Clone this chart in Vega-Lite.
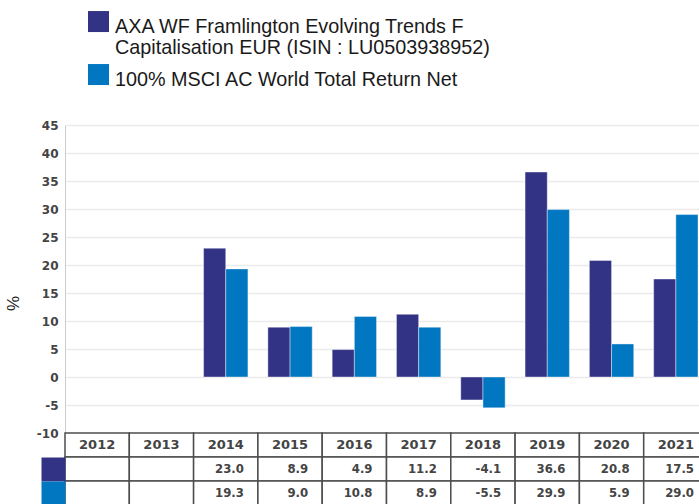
{
  "$schema": "https://vega.github.io/schema/vega-lite/v6.json",
  "padding": {"left": 4, "top": 6, "right": 0, "bottom": 0},
  "config": {"font": "Liberation Sans", "view": {"stroke": null}},
  "spacing": 0,
  "bounds": "flush",
  "vconcat": [
    {
      "width": 643,
      "height": 308,
      "data": {
        "values": [
          {"year": "2014", "series": "AXA WF Framlington Evolving Trends F Capitalisation EUR (ISIN : LU0503938952)", "value": 23.0},
          {"year": "2014", "series": "100% MSCI AC World Total Return Net", "value": 19.3},
          {"year": "2015", "series": "AXA WF Framlington Evolving Trends F Capitalisation EUR (ISIN : LU0503938952)", "value": 8.9},
          {"year": "2015", "series": "100% MSCI AC World Total Return Net", "value": 9.0},
          {"year": "2016", "series": "AXA WF Framlington Evolving Trends F Capitalisation EUR (ISIN : LU0503938952)", "value": 4.9},
          {"year": "2016", "series": "100% MSCI AC World Total Return Net", "value": 10.8},
          {"year": "2017", "series": "AXA WF Framlington Evolving Trends F Capitalisation EUR (ISIN : LU0503938952)", "value": 11.2},
          {"year": "2017", "series": "100% MSCI AC World Total Return Net", "value": 8.9},
          {"year": "2018", "series": "AXA WF Framlington Evolving Trends F Capitalisation EUR (ISIN : LU0503938952)", "value": -4.1},
          {"year": "2018", "series": "100% MSCI AC World Total Return Net", "value": -5.5},
          {"year": "2019", "series": "AXA WF Framlington Evolving Trends F Capitalisation EUR (ISIN : LU0503938952)", "value": 36.6},
          {"year": "2019", "series": "100% MSCI AC World Total Return Net", "value": 29.9},
          {"year": "2020", "series": "AXA WF Framlington Evolving Trends F Capitalisation EUR (ISIN : LU0503938952)", "value": 20.8},
          {"year": "2020", "series": "100% MSCI AC World Total Return Net", "value": 5.9},
          {"year": "2021", "series": "AXA WF Framlington Evolving Trends F Capitalisation EUR (ISIN : LU0503938952)", "value": 17.5},
          {"year": "2021", "series": "100% MSCI AC World Total Return Net", "value": 29.0}
        ]
      },
      "mark": {"type": "bar", "stroke": "#ffffff", "strokeOpacity": 0.4, "strokeWidth": 1},
      "encoding": {
        "x": {
          "field": "year", "type": "nominal",
          "scale": {"domain": ["2012","2013","2014","2015","2016","2017","2018","2019","2020","2021"], "paddingInner": 0.31, "paddingOuter": 0.155},
          "axis": null
        },
        "xOffset": {
          "field": "series", "type": "nominal",
          "scale": {"domain": ["AXA WF Framlington Evolving Trends F Capitalisation EUR (ISIN : LU0503938952)", "100% MSCI AC World Total Return Net"], "paddingInner": 0, "paddingOuter": 0}
        },
        "y": {
          "field": "value", "type": "quantitative",
          "scale": {"domain": [-10, 45], "nice": false, "zero": false},
          "axis": {
            "values": [-10,-5,0,5,10,15,20,25,30,35,40,45],
            "labelExpr": "'' + datum.value",
            "title": "%",
            "titleY": 178,
            "titleFontSize": 17,
            "titleFontWeight": "normal",
            "titleColor": "#222222",
            "titlePadding": 14,
            "ticks": false,
            "labelPadding": 7,
            "labelFont": "DejaVu Sans",
            "labelFontSize": 12,
            "labelFontWeight": "bold",
            "labelColor": "#444444",
            "labelOverlap": false,
            "domainColor": "#cccccc",
            "domainWidth": 1,
            "gridColor": "#ebebeb",
            "gridWidth": 1.5
          }
        },
        "color": {
          "field": "series", "type": "nominal",
          "scale": {"domain": ["AXA WF Framlington Evolving Trends F Capitalisation EUR (ISIN : LU0503938952)", "100% MSCI AC World Total Return Net"], "range": ["#333385", "#0077c0"]},
          "legend": {
            "title": null,
            "orient": "none",
            "legendX": 23,
            "legendY": -119,
            "padding": 0,
            "symbolType": "M-1,-0.52H1V1.48H-1Z",
            "symbolSize": 441,
            "symbolStrokeWidth": 0,
            "symbolOpacity": 1,
            "labelFontSize": 19.8,
            "labelBaseline": "top",
            "labelOffset": 6,
            "labelColor": "#1a1a1a",
            "labelLimit": 1000,
            "rowPadding": 0,
            "labelExpr": "indexof(datum.label, 'AXA') == 0 ? ['AXA WF Framlington Evolving Trends F', 'Capitalisation EUR (ISIN : LU0503938952)'] : datum.label"
          }
        }
      }
    },
    {
      "width": 643,
      "height": 72,
      "data": {
        "values": [
          {"year": "2012", "row": "year", "label": "2012"},
          {"year": "2013", "row": "year", "label": "2013"},
          {"year": "2014", "row": "year", "label": "2014"},
          {"year": "2015", "row": "year", "label": "2015"},
          {"year": "2016", "row": "year", "label": "2016"},
          {"year": "2017", "row": "year", "label": "2017"},
          {"year": "2018", "row": "year", "label": "2018"},
          {"year": "2019", "row": "year", "label": "2019"},
          {"year": "2020", "row": "year", "label": "2020"},
          {"year": "2021", "row": "year", "label": "2021"},
          {"year": "2012", "row": "fund", "label": ""},
          {"year": "2013", "row": "fund", "label": ""},
          {"year": "2014", "row": "fund", "label": "23.0"},
          {"year": "2015", "row": "fund", "label": "8.9"},
          {"year": "2016", "row": "fund", "label": "4.9"},
          {"year": "2017", "row": "fund", "label": "11.2"},
          {"year": "2018", "row": "fund", "label": "-4.1"},
          {"year": "2019", "row": "fund", "label": "36.6"},
          {"year": "2020", "row": "fund", "label": "20.8"},
          {"year": "2021", "row": "fund", "label": "17.5"},
          {"year": "2012", "row": "index", "label": ""},
          {"year": "2013", "row": "index", "label": ""},
          {"year": "2014", "row": "index", "label": "19.3"},
          {"year": "2015", "row": "index", "label": "9.0"},
          {"year": "2016", "row": "index", "label": "10.8"},
          {"year": "2017", "row": "index", "label": "8.9"},
          {"year": "2018", "row": "index", "label": "-5.5"},
          {"year": "2019", "row": "index", "label": "29.9"},
          {"year": "2020", "row": "index", "label": "5.9"},
          {"year": "2021", "row": "index", "label": "29.0"}
        ]
      },
      "encoding": {
        "x": {
          "field": "year", "type": "nominal",
          "scale": {"domain": ["2012","2013","2014","2015","2016","2017","2018","2019","2020","2021"], "paddingInner": 0, "paddingOuter": 0},
          "axis": null
        },
        "y": {
          "field": "row", "type": "nominal",
          "scale": {"domain": ["year", "fund", "index"], "paddingInner": 0, "paddingOuter": 0},
          "axis": {
            "title": null,
            "labels": false,
            "domain": false,
            "grid": false,
            "ticks": true,
            "tickSize": 24,
            "tickWidth": 24,
            "tickCap": "butt",
            "tickColor": {"condition": {"test": "datum.value === 'fund'", "value": "#333385"}, "value": "#0077c0"},
            "tickOpacity": {"condition": {"test": "datum.value === 'year'", "value": 0}, "value": 1}
          }
        }
      },
      "layer": [
        {"mark": {"type": "rect", "fill": "#ffffff", "stroke": "#4d4d4d", "strokeWidth": 1.5}},
        {
          "transform": [{"filter": "datum.row === 'year'"}],
          "mark": {"type": "text", "font": "DejaVu Sans", "fontWeight": "bold", "fontSize": 13, "color": "#444444"},
          "encoding": {"text": {"field": "label"}}
        },
        {
          "transform": [{"filter": "datum.row !== 'year'"}],
          "mark": {"type": "text", "align": "right", "dx": -14, "font": "DejaVu Sans Condensed, DejaVu Sans", "fontWeight": "bold", "fontSize": 13, "color": "#444444"},
          "encoding": {
            "x": {"field": "year", "type": "nominal", "bandPosition": 1},
            "text": {"field": "label"}
          }
        }
      ]
    }
  ]
}
